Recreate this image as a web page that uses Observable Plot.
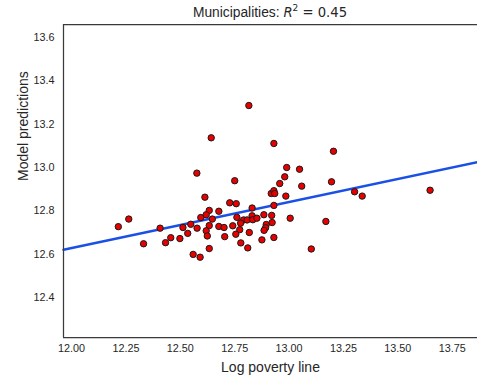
<!DOCTYPE html>
<html>
<head>
<meta charset="utf-8">
<script src="https://cdn.jsdelivr.net/npm/d3@7"></script>
<script src="https://cdn.jsdelivr.net/npm/@observablehq/plot@0.6"></script>
<style>
  html, body { margin: 0; padding: 0; background: white; }
  #wrap { position: relative; width: 477px; height: 378px; overflow: hidden; }
  #title { position: absolute; top: 0; left: 63px; width: 414px; height: 24px; line-height: 25px;
           text-align: center; font-family: "Liberation Sans", Arial, sans-serif; font-size: 13.8px; color: #262626; }
  #title .m { font-family: "DejaVu Sans", sans-serif; font-size: 13.2px; }
  #title sup { font-size: 9px; vertical-align: 6px; line-height: 0; }
</style>
</head>
<body>
<div id="wrap">
  <div id="title">Municipalities: <span class="m"><i>R</i><sup>2</sup> = 0.45</span></div>
  <div id="chart"></div>
</div>
<script>
// Log poverty line (x) and model predictions (y) per municipality
const povertyLine = [
  12.815, 12.642, 12.576, 12.750, 12.613, 12.727, 12.757, 12.918, 12.830, 12.633,
  12.677, 12.263, 12.215, 12.594, 12.619, 12.647, 12.760, 12.791, 12.807, 12.830,
  12.833, 12.852, 12.884, 12.920, 12.548, 12.512, 12.577, 12.633, 12.677, 12.701,
  12.741, 12.777, 12.895, 12.407, 12.619, 12.773, 12.817, 12.892, 12.885, 12.534,
  12.624, 12.755, 12.704, 12.456, 12.498, 12.875, 12.331, 12.432, 12.778, 12.633,
  12.810, 12.559, 12.591, 12.930, 13.204, 12.989, 13.048, 12.980, 12.957, 13.195,
  13.058, 12.930, 12.934, 13.301, 13.336, 13.648, 12.985, 12.930, 13.005, 12.922,
  12.930, 13.102, 13.169
];
const predictions = [
  13.286, 13.137, 12.974, 12.939, 12.863, 12.837, 12.833, 12.880, 12.813, 12.802,
  12.798, 12.762, 12.727, 12.769, 12.782, 12.762, 12.770, 12.758, 12.758, 12.777,
  12.759, 12.766, 12.782, 12.779, 12.738, 12.723, 12.720, 12.732, 12.728, 12.723,
  12.731, 12.743, 12.737, 12.720, 12.708, 12.713, 12.700, 12.722, 12.710, 12.696,
  12.684, 12.692, 12.681, 12.676, 12.672, 12.666, 12.648, 12.653, 12.652, 12.626,
  12.629, 12.599, 12.586, 13.111, 13.075, 13.000, 12.992, 12.957, 12.926, 12.934,
  12.914, 12.893, 12.880, 12.888, 12.868, 12.895, 12.868, 12.825, 12.766, 12.746,
  12.677, 12.624, 12.751
];
// Fitted regression line endpoints
const fitX = [11.963, 13.866];
const fitY = [12.620, 13.025];
// Axis ranges and ticks
const xDomain = [11.963, 13.866];
const yDomain = [12.2154, 13.66];
const xTicks = [12.00, 12.25, 12.50, 12.75, 13.00, 13.25, 13.50, 13.75];
const yTicks = [12.4, 12.6, 12.8, 13.0, 13.2, 13.4, 13.6];
const xLabel = "Log poverty line";
const yLabel = "Model predictions";

const points = povertyLine.map((x, i) => ({x, y: predictions[i]}));
const fit = fitX.map((x, i) => ({x, y: fitY[i]}));

const spine = "#3a3a3a";
const chart = Plot.plot({
  width: 477,
  height: 378,
  marginTop: 24,
  marginLeft: 63,
  marginRight: 0,
  marginBottom: 41,
  style: {
    fontFamily: "'Liberation Sans', Arial, sans-serif",
    fontSize: "10.8px",
    color: "#262626",
    background: "white",
    overflow: "visible"
  },
  x: {domain: xDomain, ticks: xTicks, tickFormat: d3.format(".2f"), tickSize: 0, tickPadding: 7, label: null},
  y: {domain: yDomain, ticks: yTicks, tickFormat: d3.format(".1f"), tickSize: 0, tickPadding: 9, label: null},
  marks: [
    Plot.line(fit, {x: "x", y: "y", stroke: "#1a50e6", strokeWidth: 2.5}),
    Plot.dot(points, {x: "x", y: "y", r: 3.2, fill: "#e80000", stroke: "#1a1a1a", strokeWidth: 1}),
    Plot.ruleX([xDomain[0]], {stroke: spine, strokeWidth: 1.25}),
    Plot.ruleY([yDomain[0], yDomain[1]], {stroke: spine, strokeWidth: 1.25}),
    Plot.text([xLabel], {frameAnchor: "bottom", dy: 30, text: d => d, fontSize: 14, fill: "#262626", lineAnchor: "middle"}),
    Plot.text([yLabel], {frameAnchor: "left", dx: -40, rotate: -90, text: d => d, fontSize: 14, fill: "#262626", lineAnchor: "middle"})
  ]
});
document.getElementById("chart").appendChild(chart);
</script>
</body>
</html>
